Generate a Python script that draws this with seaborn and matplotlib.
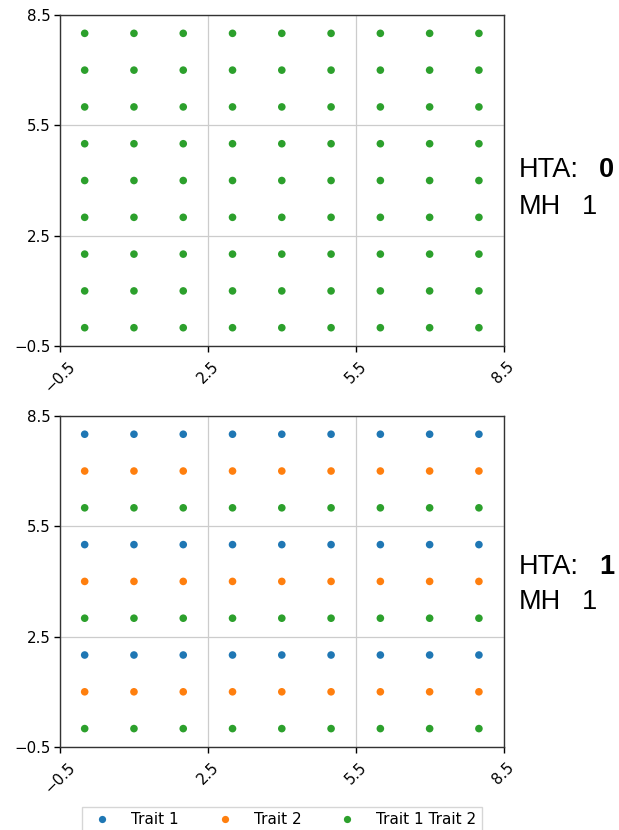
import pandas as pd
import seaborn as sns
import matplotlib.pyplot as plt

# grid positions (same for both panels)
x_positions = [0, 1, 2, 3, 4, 5, 6, 7, 8]
y_positions = [0, 1, 2, 3, 4, 5, 6, 7, 8]

# trait of each row, listed from y=0 up to y=8
traits_top = ['Trait 1 Trait 2'] * 9
traits_bottom = ['Trait 1 Trait 2', 'Trait 2', 'Trait 1',
                 'Trait 1 Trait 2', 'Trait 2', 'Trait 1',
                 'Trait 1 Trait 2', 'Trait 2', 'Trait 1']

hta_values = ['0', '1']
mh_values = ['1', '1']

trait_order = ['Trait 1', 'Trait 2', 'Trait 1 Trait 2']
trait_colors = ['#1f77b4', '#ff7f0e', '#2ca02c']
tick_vals = [-0.5, 2.5, 5.5, 8.5]


def make_frame(row_traits):
    rows = []
    for yi, trait in zip(y_positions, row_traits):
        for xi in x_positions:
            rows.append({'x': xi, 'y': yi, 'trait': trait})
    return pd.DataFrame(rows)


sns.set_style("ticks")
plt.rcParams['font.family'] = ['DejaVu Sans']
plt.rcParams['text.color'] = 'black'
plt.rcParams['xtick.color'] = 'black'
plt.rcParams['ytick.color'] = 'black'

fig = plt.figure(figsize=(6.19, 8.30), dpi=100)
ax_top = fig.add_axes([0.097, 0.583, 0.7165, 0.399])
ax_bot = fig.add_axes([0.097, 0.100, 0.7165, 0.399])

palette = dict(zip(trait_order, trait_colors))

# baseline heights (figure fraction) of the two text lines beside each panel
label_rows = [(0.787, 0.742), (0.309, 0.266)]

for ax, traits, hta, mh, (y_hta, y_mh) in zip(
        [ax_top, ax_bot], [traits_top, traits_bottom],
        hta_values, mh_values, label_rows):
    df = make_frame(traits)
    sns.scatterplot(data=df, x='x', y='y', hue='trait', hue_order=trait_order,
                    palette=palette, s=30, edgecolor='none', ax=ax,
                    legend=(ax is ax_bot), zorder=3)
    ax.set_xlim(-0.5, 8.5)
    ax.set_ylim(-0.5, 8.5)
    ax.set_xticks(tick_vals)
    ax.set_yticks(tick_vals)
    labels = [f"{v:.1f}".replace('-', '\u2212') for v in tick_vals]
    ax.set_xticklabels(labels, rotation=45, fontsize=10.8)
    ax.set_yticklabels(labels, fontsize=10.8)
    ax.tick_params(axis='y', length=4, width=1, pad=3)
    ax.tick_params(axis='x', length=4, width=1, pad=5)
    ax.grid(True, color='#cccccc', linewidth=0.9, zorder=0)
    ax.set_xlabel('')
    ax.set_ylabel('')
    for sp in ax.spines.values():
        sp.set_color('#333333')
        sp.set_linewidth(1.0)

    # label on the right
    fig.text(0.838, y_hta, 'HTA:', fontsize=19.5, family='Liberation Sans',
             va='baseline', ha='left')
    fig.text(0.968, y_hta, hta, fontsize=19.5, family='Liberation Sans',
             fontweight='bold', va='baseline', ha='left')
    fig.text(0.838, y_mh, 'MH', fontsize=19.5, family='Liberation Sans',
             va='baseline', ha='left')
    fig.text(0.940, y_mh, mh, fontsize=19.5, family='Liberation Sans',
             va='baseline', ha='left')

handles, labels = ax_bot.get_legend_handles_labels()
ax_bot.get_legend().remove()
fig.legend(handles, labels, loc='upper center', bbox_to_anchor=(0.455, 0.037),
           ncol=3, frameon=True, fontsize=11, markerscale=0.95,
           columnspacing=2.0, handletextpad=0.9, borderpad=0.35,
           fancybox=False, edgecolor='#cccccc')

fig.savefig('out.png', dpi=100)
